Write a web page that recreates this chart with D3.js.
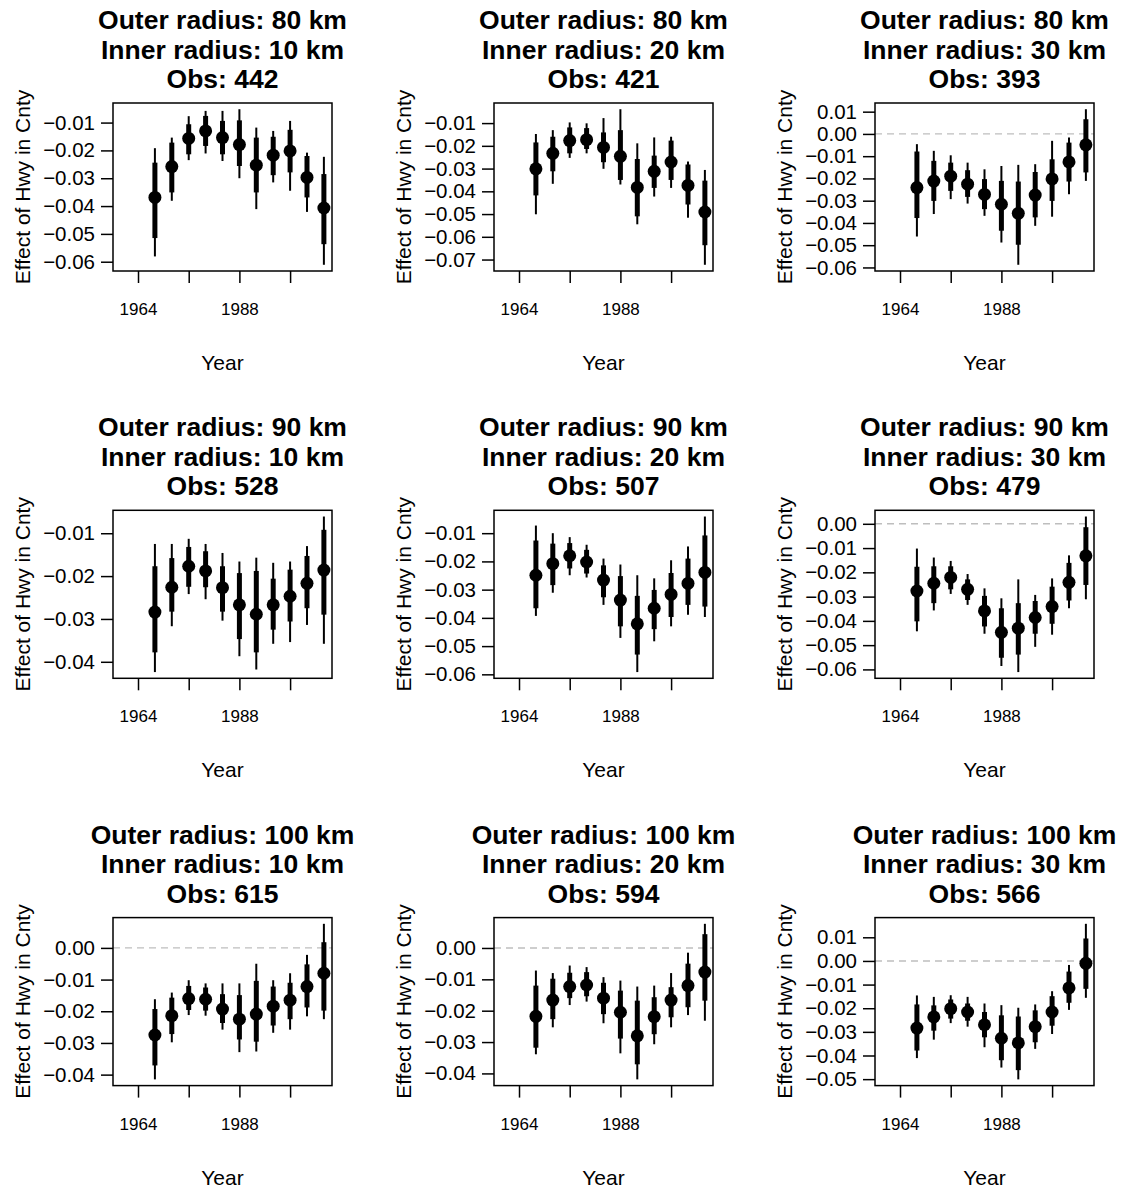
<!DOCTYPE html>
<html>
<head>
<meta charset="utf-8">
<script src="https://cdn.jsdelivr.net/npm/d3@7"></script>
<style>
  html, body { margin: 0; padding: 0; background: #fff; }
  svg { display: block; }
  text { font-family: "Liberation Sans", Arial, Helvetica, sans-serif; }
</style>
</head>
<body>
<script>
// ---------- DATA ----------
const years = [1968, 1972, 1976, 1980, 1984, 1988, 1992, 1996, 2000, 2004, 2008];
const xTicks = [1964, 1976, 1988, 2000];
const xTickLabels = ["1964", "", "1988", ""];
const outerRadii = [80, 90, 100];   // rows
const innerRadii = [10, 20, 30];    // columns
const obs = [442, 421, 393, 528, 507, 479, 615, 594, 566];

const estimates = [
  [-0.0369, -0.0258, -0.0157, -0.0130, -0.0154, -0.0179, -0.0253, -0.0217, -0.0202, -0.0297, -0.0407],
  [-0.0301, -0.0233, -0.0177, -0.0173, -0.0207, -0.0246, -0.0383, -0.0312, -0.0271, -0.0374, -0.0491],
  [-0.0241, -0.0212, -0.0190, -0.0226, -0.0272, -0.0316, -0.0357, -0.0275, -0.0202, -0.0126, -0.0049],
  [-0.0284, -0.0226, -0.0177, -0.0188, -0.0227, -0.0267, -0.0289, -0.0267, -0.0247, -0.0217, -0.0186],
  [-0.0249, -0.0208, -0.0180, -0.0202, -0.0266, -0.0337, -0.0421, -0.0366, -0.0317, -0.0278, -0.0239],
  [-0.0277, -0.0245, -0.0221, -0.0270, -0.0359, -0.0447, -0.0430, -0.0386, -0.0341, -0.0241, -0.0132],
  [-0.0275, -0.0214, -0.0160, -0.0162, -0.0193, -0.0225, -0.0209, -0.0184, -0.0165, -0.0122, -0.0080],
  [-0.0218, -0.0166, -0.0123, -0.0118, -0.0160, -0.0205, -0.0280, -0.0219, -0.0166, -0.0120, -0.0077],
  [-0.0284, -0.0237, -0.0202, -0.0216, -0.0270, -0.0327, -0.0347, -0.0278, -0.0216, -0.0114, -0.0010]
];
const innerLow = [
  [-0.0515, -0.0351, -0.0214, -0.0184, -0.0214, -0.0256, -0.0351, -0.0289, -0.0279, -0.0369, -0.0537],
  [-0.0418, -0.0312, -0.0233, -0.0214, -0.0272, -0.0350, -0.0510, -0.0385, -0.0350, -0.0458, -0.0637],
  [-0.0378, -0.0301, -0.0256, -0.0283, -0.0338, -0.0435, -0.0498, -0.0375, -0.0301, -0.0214, -0.0173],
  [-0.0378, -0.0283, -0.0225, -0.0226, -0.0283, -0.0347, -0.0378, -0.0325, -0.0306, -0.0275, -0.0290],
  [-0.0366, -0.0284, -0.0225, -0.0243, -0.0327, -0.0430, -0.0530, -0.0440, -0.0397, -0.0354, -0.0360],
  [-0.0402, -0.0327, -0.0270, -0.0314, -0.0423, -0.0552, -0.0539, -0.0453, -0.0412, -0.0316, -0.0252],
  [-0.0371, -0.0272, -0.0196, -0.0198, -0.0237, -0.0289, -0.0296, -0.0245, -0.0225, -0.0188, -0.0198],
  [-0.0318, -0.0227, -0.0160, -0.0154, -0.0211, -0.0289, -0.0371, -0.0275, -0.0221, -0.0189, -0.0168],
  [-0.0379, -0.0295, -0.0244, -0.0253, -0.0323, -0.0420, -0.0462, -0.0344, -0.0274, -0.0177, -0.0118]
];
const innerHigh = [
  [-0.0244, -0.0172, -0.0106, -0.0076, -0.0094, -0.0092, -0.0154, -0.0151, -0.0126, -0.0220, -0.0285],
  [-0.0185, -0.0160, -0.0119, -0.0122, -0.0141, -0.0131, -0.0258, -0.0243, -0.0177, -0.0282, -0.0353],
  [-0.0079, -0.0121, -0.0129, -0.0163, -0.0203, -0.0211, -0.0214, -0.0171, -0.0114, -0.0039, 0.0066],
  [-0.0177, -0.0158, -0.0132, -0.0142, -0.0177, -0.0193, -0.0188, -0.0206, -0.0185, -0.0153, -0.0092],
  [-0.0126, -0.0137, -0.0135, -0.0159, -0.0214, -0.0252, -0.0322, -0.0301, -0.0241, -0.0190, -0.0108],
  [-0.0177, -0.0175, -0.0175, -0.0229, -0.0297, -0.0348, -0.0327, -0.0318, -0.0259, -0.0161, -0.0014],
  [-0.0193, -0.0157, -0.0120, -0.0125, -0.0146, -0.0149, -0.0104, -0.0122, -0.0110, -0.0052, 0.0018],
  [-0.0120, -0.0098, -0.0079, -0.0077, -0.0111, -0.0136, -0.0168, -0.0157, -0.0125, -0.0050, 0.0044],
  [-0.0184, -0.0188, -0.0163, -0.0180, -0.0216, -0.0230, -0.0235, -0.0209, -0.0149, -0.0045, 0.0095]
];
const outerLow = [
  [-0.0581, -0.0381, -0.0235, -0.0211, -0.0238, -0.0300, -0.0411, -0.0315, -0.0345, -0.0421, -0.0611],
  [-0.0501, -0.0367, -0.0253, -0.0233, -0.0301, -0.0370, -0.0545, -0.0423, -0.0385, -0.0516, -0.0723],
  [-0.0461, -0.0360, -0.0293, -0.0313, -0.0368, -0.0488, -0.0588, -0.0413, -0.0372, -0.0271, -0.0211],
  [-0.0424, -0.0317, -0.0242, -0.0254, -0.0304, -0.0387, -0.0418, -0.0358, -0.0354, -0.0314, -0.0358],
  [-0.0393, -0.0311, -0.0249, -0.0257, -0.0354, -0.0471, -0.0592, -0.0483, -0.0430, -0.0389, -0.0397],
  [-0.0443, -0.0357, -0.0289, -0.0334, -0.0453, -0.0586, -0.0611, -0.0507, -0.0457, -0.0348, -0.0311],
  [-0.0415, -0.0298, -0.0212, -0.0214, -0.0258, -0.0329, -0.0327, -0.0268, -0.0258, -0.0216, -0.0225],
  [-0.0339, -0.0253, -0.0182, -0.0171, -0.0240, -0.0336, -0.0419, -0.0307, -0.0253, -0.0214, -0.0232],
  [-0.0411, -0.0333, -0.0263, -0.0278, -0.0365, -0.0451, -0.0501, -0.0372, -0.0309, -0.0207, -0.0156]
];
const outerHigh = [
  [-0.0192, -0.0154, -0.0077, -0.0058, -0.0058, -0.0052, -0.0118, -0.0130, -0.0094, -0.0208, -0.0223],
  [-0.0148, -0.0131, -0.0097, -0.0101, -0.0078, -0.0039, -0.0189, -0.0163, -0.0160, -0.0269, -0.0306],
  [-0.0046, -0.0076, -0.0096, -0.0129, -0.0159, -0.0144, -0.0139, -0.0136, -0.0031, -0.0016, 0.0111],
  [-0.0125, -0.0125, -0.0113, -0.0125, -0.0146, -0.0166, -0.0157, -0.0169, -0.0166, -0.0130, -0.0061],
  [-0.0073, -0.0100, -0.0114, -0.0141, -0.0190, -0.0211, -0.0249, -0.0260, -0.0196, -0.0147, -0.0041],
  [-0.0102, -0.0139, -0.0153, -0.0207, -0.0266, -0.0307, -0.0229, -0.0293, -0.0225, -0.0130, 0.0030],
  [-0.0162, -0.0141, -0.0102, -0.0112, -0.0112, -0.0112, -0.0050, -0.0102, -0.0080, -0.0022, 0.0076],
  [-0.0072, -0.0080, -0.0056, -0.0061, -0.0093, -0.0104, -0.0123, -0.0120, -0.0080, -0.0015, 0.0077],
  [-0.0146, -0.0152, -0.0145, -0.0152, -0.0180, -0.0187, -0.0198, -0.0184, -0.0128, -0.0017, 0.0157]
];

// ---------- LAYOUT ----------
const W = 1125, H = 1191;
const colStep = 381, rowStep = 407.3;
const boxLeft0 = 113, boxTop0 = 103, boxW = 219, boxH = 168;

const svg = d3.select("body").append("svg").attr("width", W).attr("height", H);

const fmt = d3.format(".2f");

for (let p = 0; p < 9; p++) {
  const r = Math.floor(p / 3), c = p % 3;
  const left = boxLeft0 + c * colStep;
  const top = boxTop0 + r * rowStep;
  const g = svg.append("g");

  // R-style axis limits: data range extended 4% each side
  const yMin = d3.min(outerLow[p]), yMax = d3.max(outerHigh[p]);
  const pad = (yMax - yMin) * 0.04;
  const y = d3.scaleLinear().domain([yMin - pad, yMax + pad]).range([top + boxH, top]);
  const xlimLo = 1960, xlimHi = 2008, xpad = (xlimHi - xlimLo) * 0.04;
  const x = d3.scaleLinear().domain([xlimLo - xpad, xlimHi + xpad]).range([left, left + boxW]);

  // y ticks at multiples of 0.01 within range
  const yTicks = [];
  const [d0, d1] = y.domain();
  for (let k = Math.ceil(d0 / 0.01 - 1e-9); k <= Math.floor(d1 / 0.01 + 1e-9); k++) {
    yTicks.push(Math.round(k) * 0.01 + 0);
  }

  // zero reference line (clipped to plot region)
  if (0 >= d0 && 0 <= d1) {
    g.append("line")
      .attr("x1", left).attr("x2", left + boxW)
      .attr("y1", y(0)).attr("y2", y(0))
      .attr("stroke", "#bebebe").attr("stroke-width", 1.4)
      .attr("stroke-dasharray", "7,5");
  }

  // outer (thin) intervals
  g.selectAll("line.outer").data(years).enter().append("line")
    .attr("x1", d => x(d)).attr("x2", d => x(d))
    .attr("y1", (d, i) => y(outerLow[p][i])).attr("y2", (d, i) => y(outerHigh[p][i]))
    .attr("stroke", "#000").attr("stroke-width", 2);

  // inner (thick) intervals
  g.selectAll("line.inner").data(years).enter().append("line")
    .attr("x1", d => x(d)).attr("x2", d => x(d))
    .attr("y1", (d, i) => y(innerLow[p][i])).attr("y2", (d, i) => y(innerHigh[p][i]))
    .attr("stroke", "#000").attr("stroke-width", 5);

  // point estimates
  g.selectAll("circle").data(years).enter().append("circle")
    .attr("cx", d => x(d)).attr("cy", (d, i) => y(estimates[p][i]))
    .attr("r", 6.5).attr("fill", "#000");

  // box
  g.append("rect").attr("x", left).attr("y", top).attr("width", boxW).attr("height", boxH)
    .attr("fill", "none").attr("stroke", "#000").attr("stroke-width", 1.5);

  // y axis
  const yAxis = d3.axisLeft(y).tickValues(yTicks).tickFormat(fmt).tickSize(12).tickPadding(6);
  const ya = g.append("g").attr("transform", `translate(${left},0)`).call(yAxis);
  ya.select(".domain").remove();
  ya.selectAll(".tick line").attr("stroke", "#000").attr("stroke-width", 1.5);
  ya.selectAll(".tick text").attr("font-size", 20.5).attr("fill", "#000")
    .attr("font-family", '"Liberation Sans", Arial, sans-serif');

  // x axis
  const xAxis = d3.axisBottom(x).tickValues(xTicks)
    .tickFormat((d, i) => xTickLabels[i]).tickSize(12).tickPadding(20);
  const xa = g.append("g").attr("transform", `translate(0,${top + boxH})`).call(xAxis);
  xa.select(".domain").remove();
  xa.selectAll(".tick line").attr("stroke", "#000").attr("stroke-width", 1.5);
  xa.selectAll(".tick text").attr("font-size", 17).attr("fill", "#000")
    .attr("font-family", '"Liberation Sans", Arial, sans-serif');

  // axis titles
  g.append("text")
    .attr("transform", `translate(${left - 83},${top + boxH / 2}) rotate(-90)`)
    .attr("text-anchor", "middle").attr("font-size", 21).attr("fill", "#000")
    .text("Effect of Hwy in Cnty");
  g.append("text")
    .attr("x", left + boxW / 2).attr("y", top + boxH + 99)
    .attr("text-anchor", "middle").attr("font-size", 21).attr("fill", "#000")
    .text("Year");

  // title (three lines)
  const titleLines = [
    `Outer radius: ${outerRadii[r]} km`,
    `Inner radius: ${innerRadii[c]} km`,
    `Obs: ${obs[p]}`
  ];
  titleLines.forEach((t, i) => {
    g.append("text")
      .attr("x", left + boxW / 2).attr("y", top - 15 - (2 - i) * 29.5)
      .attr("text-anchor", "middle").attr("font-size", 26.5).attr("font-weight", "bold")
      .attr("fill", "#000").text(t);
  });
}
</script>
</body>
</html>
